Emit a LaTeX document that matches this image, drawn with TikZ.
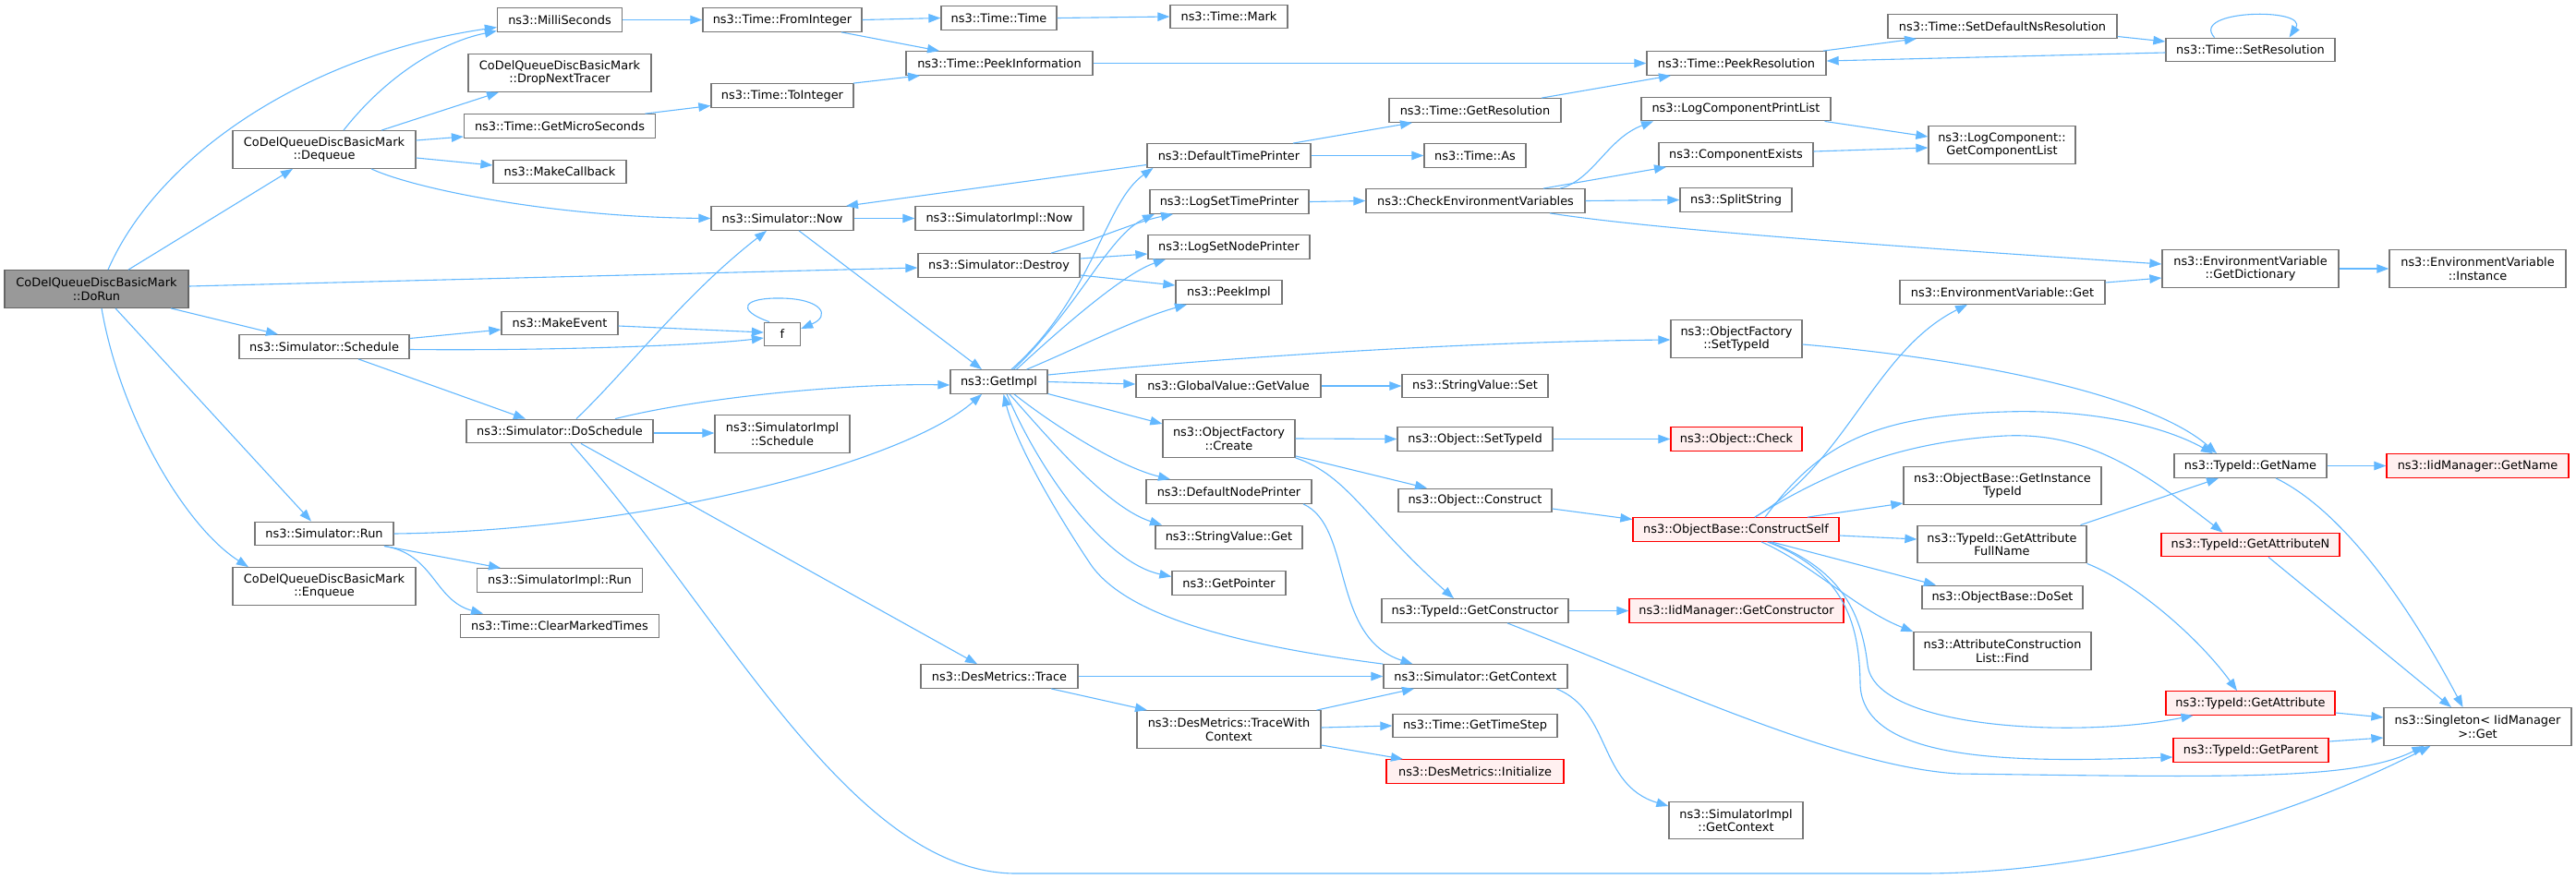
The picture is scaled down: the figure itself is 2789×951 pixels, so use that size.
\documentclass[tikz,border=0pt]{standalone}
\usepackage{fontspec}
\setmainfont{DejaVu Sans}
\usetikzlibrary{arrows.meta,calc}
\definecolor{edgeblue}{HTML}{63B8FF}
\definecolor{boxgray}{HTML}{777777}
\definecolor{rootgray}{HTML}{999999}
\definecolor{rootborder}{HTML}{666666}
\definecolor{redfill}{HTML}{FFF0F0}
\definecolor{redborder}{HTML}{FF0000}
\tikzset{
  box/.style={draw=boxgray, fill=white, line width=1.3pt, minimum height=25.5pt, inner sep=0pt, align=center, font=\fontsize{12.9pt}{14.5pt}\selectfont},
  box2/.style={box, minimum height=40.5pt},
  redbox/.style={box, draw=redborder, fill=redfill},
  rootbox/.style={box2, draw=rootborder, fill=rootgray},
  edge/.style={draw=edgeblue, line width=1.1pt, -{Triangle[length=13pt,width=9.5pt]}},
}
\begin{document}
\begin{tikzpicture}[x=1pt,y=-1pt]
\useasboundingbox (0,0) rectangle (2789,951);
% rank 0-1
\node[rootbox, minimum width=199pt] (dorun) at (104.5,313) {CoDelQueueDiscBasicMark\\::DoRun};
\node[box2, minimum width=198pt] (dequeue) at (351,162) {CoDelQueueDiscBasicMark\\::Dequeue};
\node[box, minimum width=184pt] (schedule) at (351,375.5) {ns3::Simulator::Schedule};
\node[box, minimum width=150pt] (run) at (351,578) {ns3::Simulator::Run};
\node[box2, minimum width=198pt] (enqueue) at (351,635) {CoDelQueueDiscBasicMark\\::Enqueue};
% rank 2
\node[box, minimum width=135pt] (milli) at (606,21.5) {ns3::MilliSeconds};
\node[box2, minimum width=198pt] (dropnext) at (606,79) {CoDelQueueDiscBasicMark\\::DropNextTracer};
\node[box, minimum width=207pt] (getmicro) at (606,136.5) {ns3::Time::GetMicroSeconds};
\node[box, minimum width=144pt] (makecallback) at (606,186) {ns3::MakeCallback};
\node[box, minimum width=126pt] (makeevent) at (606,350) {ns3::MakeEvent};
\node[box, minimum width=202pt] (doschedule) at (606,467) {ns3::Simulator::DoSchedule};
\node[box, minimum width=179pt] (simimplrun) at (606,628.5) {ns3::SimulatorImpl::Run};
\node[box, minimum width=215pt] (clearmarked) at (606,678) {ns3::Time::ClearMarkedTimes};
% rank 3
\node[box, minimum width=172pt] (frominteger) at (847,21.5) {ns3::Time::FromInteger};
\node[box, minimum width=154pt] (tointeger) at (847,103.5) {ns3::Time::ToInteger};
\node[box, minimum width=154pt] (now) at (847,236.5) {ns3::Simulator::Now};
\node[box, minimum width=39pt] (f) at (847,362) {f};
\node[box2, minimum width=146pt] (simimplsched) at (847,470) {ns3::SimulatorImpl\\::Schedule};
% rank 4
\node[box, minimum width=125pt] (timetime) at (1081.5,19.5) {ns3::Time::Time};
\node[box, minimum width=202pt] (peekinfo) at (1082,68.5) {ns3::Time::PeekInformation};
\node[box, minimum width=182pt] (simimplnow) at (1082,236.5) {ns3::SimulatorImpl::Now};
\node[box, minimum width=175pt] (destroy) at (1081.5,287.5) {ns3::Simulator::Destroy};
\node[box, minimum width=105pt] (getimpl) at (1081.5,413.5) {ns3::GetImpl};
\node[box, minimum width=170pt] (trace) at (1082,732.5) {ns3::DesMetrics::Trace};
% rank 5
\node[box, minimum width=127pt] (mark) at (1330.5,18) {ns3::Time::Mark};
\node[box, minimum width=177pt] (deftimeprinter) at (1330.5,168.5) {ns3::DefaultTimePrinter};
\node[box, minimum width=172pt] (logsettime) at (1331,218.5) {ns3::LogSetTimePrinter};
\node[box, minimum width=175pt] (logsetnode) at (1330.5,267.5) {ns3::LogSetNodePrinter};
\node[box, minimum width=115pt] (peekimpl) at (1330.5,316.5) {ns3::PeekImpl};
\node[box, minimum width=200pt] (getvalue) at (1330,418) {ns3::GlobalValue::GetValue};
\node[box2, minimum width=143pt] (ofcreate) at (1330.5,475) {ns3::ObjectFactory\\::Create};
\node[box, minimum width=179pt] (defnodeprinter) at (1330.5,532.5) {ns3::DefaultNodePrinter};
\node[box, minimum width=159pt] (svget) at (1330.5,582) {ns3::StringValue::Get};
\node[box, minimum width=123pt] (getpointer) at (1330.5,631.5) {ns3::GetPointer};
\node[box2, minimum width=199pt] (tracewith) at (1330.5,790) {ns3::DesMetrics::TraceWith\\Context};
% rank 6
\node[box, minimum width=186pt] (getres) at (1597,119.5) {ns3::Time::GetResolution};
\node[box, minimum width=110pt] (timeas) at (1597,168.5) {ns3::Time::As};
\node[box, minimum width=237pt] (checkenv) at (1597.5,217.5) {ns3::CheckEnvironmentVariables};
\node[box, minimum width=158pt] (svset) at (1597,418) {ns3::StringValue::Set};
\node[box, minimum width=168pt] (objsettypeid) at (1597,475.5) {ns3::Object::SetTypeId};
\node[box, minimum width=166pt] (objconstruct) at (1597,542) {ns3::Object::Construct};
\node[box, minimum width=202pt] (getconstructor) at (1597,661.5) {ns3::TypeId::GetConstructor};
\node[box, minimum width=199pt] (getcontext) at (1597.5,732.5) {ns3::Simulator::GetContext};
\node[box, minimum width=178pt] (gettimestep) at (1597,786) {ns3::Time::GetTimeStep};
\node[redbox, minimum width=192pt] (initialize) at (1597,835.5) {ns3::DesMetrics::Initialize};
% rank 7
\node[box, minimum width=194pt] (peekres) at (1880,68.5) {ns3::Time::PeekResolution};
\node[box, minimum width=205pt] (logcomplist) at (1879.5,118) {ns3::LogComponentPrintList};
\node[box, minimum width=167pt] (compexists) at (1879.5,167.5) {ns3::ComponentExists};
\node[box, minimum width=121pt] (splitstring) at (1879.5,216.5) {ns3::SplitString};
\node[box2, minimum width=142pt] (ofsettypeid) at (1880,367) {ns3::ObjectFactory\\::SetTypeId};
\node[redbox, minimum width=142pt] (objcheck) at (1880,475.5) {ns3::Object::Check};
\node[redbox, minimum width=223pt] (constructself) at (1879.5,573.5) {ns3::ObjectBase::ConstructSelf};
\node[redbox, minimum width=232pt] (iidgetconstructor) at (1880,661.5) {ns3::IidManager::GetConstructor};
\node[box2, minimum width=145pt] (simimplgetcontext) at (1879.5,888.5) {ns3::SimulatorImpl\\::GetContext};
% rank 8
\node[box, minimum width=248pt] (setdefaultns) at (2168,28.5) {ns3::Time::SetDefaultNsResolution};
\node[box2, minimum width=159pt] (getcomplist) at (2167.5,157) {ns3::LogComponent::\\GetComponentList};
\node[box, minimum width=222pt] (envget) at (2168,316.5) {ns3::EnvironmentVariable::Get};
\node[box2, minimum width=214pt] (getinstancetypeid) at (2168,526) {ns3::ObjectBase::GetInstance\\TypeId};
\node[box2, minimum width=183pt] (getattrfullname) at (2167.5,589.5) {ns3::TypeId::GetAttribute\\FullName};
\node[box, minimum width=174pt] (doset) at (2168,647) {ns3::ObjectBase::DoSet};
\node[box2, minimum width=192pt] (attrfind) at (2168,705) {ns3::AttributeConstruction\\List::Find};
% rank 9
\node[box, minimum width=183pt] (setres) at (2436.5,54) {ns3::Time::SetResolution};
\node[box2, minimum width=191pt] (getdict) at (2436.5,291) {ns3::EnvironmentVariable\\::GetDictionary};
\node[box, minimum width=165pt] (getname) at (2436.5,504.5) {ns3::TypeId::GetName};
\node[redbox, minimum width=193pt] (getattrn) at (2436.5,590) {ns3::TypeId::GetAttributeN};
\node[redbox, minimum width=183pt] (getattr) at (2436.5,761.5) {ns3::TypeId::GetAttribute};
\node[redbox, minimum width=168pt] (getparent) at (2437,812.5) {ns3::TypeId::GetParent};
% rank 10
\node[box2, minimum width=191pt] (instance) at (2682.5,291) {ns3::EnvironmentVariable\\::Instance};
\node[redbox, minimum width=197pt] (iidgetname) at (2682.5,504.5) {ns3::IidManager::GetName};
\node[box2, minimum width=203pt] (singleton) at (2682.5,787) {ns3::Singleton< IidManager\\>::Get};

% ---- edges: DoRun
\draw[edge] ([xshift=12.5pt]dorun.north) .. controls (170,170) and (330,60) .. ($(milli.west)+(0,8)$);
\draw[edge] ([xshift=34.5pt]dorun.north) -- ([xshift=-34pt]dequeue.south);
\draw[edge] ($(dorun.east)+(0,-3)$) -- ($(destroy.west)+(0,2.5)$);
\draw[edge] ([xshift=80.5pt]dorun.south) -- ([xshift=-50pt]schedule.north);
\draw[edge] ([xshift=20.5pt]dorun.south) -- ([xshift=-14pt]run.north);
\draw[edge] ([xshift=5.5pt]dorun.south) .. controls (130,450) and (200,570) .. ([xshift=-82pt]enqueue.north);
% Dequeue
\draw[edge] ([xshift=21pt]dequeue.north) .. controls (420,80) and (480,45) .. ($(milli.west)+(0,12)$);
\draw[edge] ([xshift=62pt]dequeue.north) -- ([xshift=-66pt]dropnext.south);
\draw[edge] ($(dequeue.east)+(0,-10)$) -- ($(getmicro.west)+(0,11.5)$);
\draw[edge] ($(dequeue.east)+(0,9)$) -- ($(makecallback.west)+(0,-7)$);
\draw[edge] ([xshift=51pt]dequeue.south) .. controls (450,205) and (600,235) .. (now.west);
% Schedule
\draw[edge] ($(schedule.east)+(0,-9)$) -- ($(makeevent.west)+(0,7)$);
\draw[edge] ($(schedule.east)+(0,3)$) .. controls (600,380) and (760,374) .. ($(f.west)+(0,4)$);
\draw[edge] ([xshift=37pt]schedule.south) -- ([xshift=-37pt]doschedule.north);
\draw[edge] ($(makeevent.east)+(0,3)$) -- ($(f.west)+(0,-2)$);
\draw[edge] ([xshift=-14pt]f.north) .. controls (795,335) and (805,322) .. (847,323) .. controls (890,324) and (900,342) .. ($(f.east)+(0,-6)$);
% DoSchedule
\draw[edge] ([xshift=18pt]doschedule.north) .. controls (680,400) and (740,320) .. ([xshift=-17pt]now.south);
\draw[edge] ([xshift=60pt]doschedule.north) .. controls (760,430) and (920,415) .. ($(getimpl.west)+(0,3.5)$);
\draw[edge] ($(doschedule.east)+(0,2)$) -- ($(simimplsched.west)+(0,-1)$);
\draw[edge] ([xshift=23pt]doschedule.south) -- ([xshift=-24pt]trace.north);
\draw[edge] ([xshift=12pt]doschedule.south) .. controls (780,660) and (920,946) .. (1100,946) -- (2080,946) .. controls (2250,946) and (2450,900) .. ([xshift=-51pt]singleton.south);
% Run
\draw[edge] (run.east) .. controls (700,575) and (980,500) .. ([xshift=-18.5pt]getimpl.south);
\draw[edge] ([xshift=65pt]run.south) -- ([xshift=-64pt]simimplrun.north);
\draw[edge] ([xshift=65pt]run.south) .. controls (470,600) and (470,650) .. ([xshift=-83pt]clearmarked.north);
% rank 2-4
\draw[edge] (milli.east) -- (frominteger.west);
\draw[edge] ([xshift=92.5pt]getmicro.north) -- ($(tointeger.west)+(0,11)$);
\draw[edge] (frominteger.east) -- (timetime.west);
\draw[edge] ([xshift=64pt]frominteger.south) -- ([xshift=-65pt]peekinfo.north);
\draw[edge] ([xshift=77pt]tointeger.north) -- ([xshift=-86pt]peekinfo.south);
\draw[edge] (timetime.east) -- (mark.west);
\draw[edge] (peekinfo.east) -- (peekres.west);
\draw[edge] (now.east) -- (simimplnow.west);
\draw[edge] ([xshift=18pt]now.south) -- ([xshift=-18.5pt]getimpl.north);
% DefaultTimePrinter, LogSetTimePrinter
\draw[edge] ($(deftimeprinter.west)+(0,10)$) -- ([xshift=69pt]now.north);
\draw[edge] ([xshift=69.5pt]deftimeprinter.north) -- ([xshift=-68pt]getres.south);
\draw[edge] (deftimeprinter.east) -- (timeas.west);
\draw[edge] (logsettime.east) -- (checkenv.west);
% Destroy
\draw[edge] ([xshift=56.5pt]destroy.north) .. controls (1180,262) and (1230,240) .. ([xshift=-61pt]logsettime.south);
\draw[edge] ($(destroy.east)+(0,-7.5)$) -- ($(logsetnode.west)+(0,7.5)$);
\draw[edge] ($(destroy.east)+(0,10.5)$) -- ($(peekimpl.west)+(0,-7.5)$);
% GetImpl
\draw[edge] ([xshift=13.5pt]getimpl.north) .. controls (1185,320) and (1195,220) .. ([xshift=-82pt]deftimeprinter.south);
\draw[edge] ([xshift=16pt]getimpl.north) .. controls (1170,330) and (1200,255) .. ([xshift=-81pt]logsettime.south);
\draw[edge] ([xshift=19pt]getimpl.north) .. controls (1160,345) and (1220,295) .. ([xshift=-68.5pt]logsetnode.south);
\draw[edge] ([xshift=30pt]getimpl.north) .. controls (1160,380) and (1230,345) .. ([xshift=-45.5pt]peekimpl.south);
\draw[edge] ($(getimpl.east)+(0,-7.5)$) .. controls (1350,385) and (1600,370) .. ($(ofsettypeid.west)+(0,1)$);
\draw[edge] (getimpl.east) -- ($(getvalue.west)+(0,-2)$);
\draw[edge] ($(getimpl.east)+(0,13)$) -- ($(ofcreate.west)+(0,-16)$);
\draw[edge] ([xshift=16.5pt]getimpl.south) .. controls (1140,460) and (1210,505) .. ([xshift=-63.5pt]defnodeprinter.north);
\draw[edge] ([xshift=11.5pt]getimpl.south) .. controls (1140,480) and (1200,550) .. ([xshift=-72.5pt]svget.north);
\draw[edge] ([xshift=8.5pt]getimpl.south) .. controls (1130,520) and (1200,610) .. ($(getpointer.west)+(0,-7)$);
\draw[edge] (getcontext.north west) .. controls (1350,700) and (1220,670) .. (1180,610) .. controls (1140,550) and (1100,480) .. ([xshift=5pt]getimpl.south);
% ObjectFactory::Create etc.
\draw[edge] (ofcreate.east) -- (objsettypeid.west);
\draw[edge] ($(ofcreate.south east)+(0,-2)$) -- ([xshift=-52pt]objconstruct.north);
\draw[edge] (ofcreate.south east) .. controls (1460,515) and (1480,565) .. ([xshift=-23pt]getconstructor.north);
\draw[edge] ([xshift=80.5pt]defnodeprinter.south) .. controls (1465,570) and (1440,690) .. ([xshift=-68pt]getcontext.north);
\draw[edge] (getvalue.east) -- (svset.west);
\draw[edge] ([xshift=95pt]tracewith.north) -- ([xshift=-66.5pt]getcontext.south);
\draw[edge] ($(tracewith.east)+(0,-2)$) -- (gettimestep.west);
\draw[edge] ($(tracewith.east)+(0,17)$) -- ([xshift=-78pt]initialize.north);
\draw[edge] (trace.east) -- (getcontext.west);
\draw[edge] ([xshift=56pt]trace.south) -- ([xshift=-88.5pt]tracewith.north);
% CheckEnvironmentVariables
\draw[edge] ([xshift=91.5pt]checkenv.north) .. controls (1725,195) and (1740,150) .. ([xshift=-89.5pt]logcomplist.south);
\draw[edge] ([xshift=73.5pt]checkenv.north) -- ([xshift=-75.5pt]compexists.south);
\draw[edge] (checkenv.east) -- (splitstring.west);
\draw[edge] ([xshift=80.5pt]checkenv.south) .. controls (1800,250) and (2100,270) .. ($(getdict.west)+(0,-5)$);
% resolution
\draw[edge] ([xshift=94pt]peekres.north) -- ([xshift=-93pt]setdefaultns.south);
\draw[edge] ([xshift=72pt]getres.north) -- ([xshift=-71pt]peekres.south);
\draw[edge] ($(setdefaultns.east)+(0,11)$) -- ($(setres.west)+(0,-9)$);
\draw[edge] ($(setres.west)+(0,3)$) -- ($(peekres.east)+(0,-2.5)$);
\draw[edge] ([xshift=-39pt]setres.north) .. controls (2370,10) and (2500,8) .. ([xshift=42pt]setres.north);
\draw[edge] ([xshift=96pt]logcomplist.south) -- ($(getcomplist.west)+(0,-9)$);
\draw[edge] ($(compexists.east)+(0,-3.5)$) -- ($(getcomplist.west)+(0,3)$);
\draw[edge] ($(envget.east)+(0,-10.5)$) -- ($(getdict.west)+(0,10)$);
\draw[edge] (getdict.east) -- (instance.west);
% objects
\draw[edge] ($(ofsettypeid.east)+(0,6)$) .. controls (2150,390) and (2330,430) .. ([xshift=-36.5pt]getname.north);
\draw[edge] (objsettypeid.east) -- (objcheck.west);
\draw[edge] ($(objconstruct.east)+(0,9)$) -- ($(constructself.west)+(0,-11)$);
\draw[edge] (getconstructor.east) -- (iidgetconstructor.west);
\draw[edge] ([xshift=35pt]getconstructor.south) .. controls (1800,740) and (1990,830) .. (2120,838) .. controls (2420,842) and (2550,845) .. ([xshift=-58pt]singleton.south);
\draw[edge] ([xshift=87.5pt]getcontext.south) .. controls (1745,770) and (1730,850) .. ($(simimplgetcontext.west)+(0,-15.5)$);
% ConstructSelf
\draw[edge] ([xshift=20.5pt]constructself.north) .. controls (2000,500) and (2030,380) .. ([xshift=-38pt]envget.south);
\draw[edge] ([xshift=31.5pt]constructself.north) .. controls (1970,480) and (2030,450) .. (2171,446) .. controls (2260,443) and (2340,460) .. ([xshift=-40.5pt]getname.north);
\draw[edge] ([xshift=20.5pt]constructself.north) .. controls (1980,510) and (2060,478) .. (2171,472) .. controls (2260,468) and (2320,510) .. ([xshift=-30pt]getattrn.north);
\draw[edge] ([xshift=77.5pt]constructself.north) -- ($(getinstancetypeid.west)+(0,19)$);
\draw[edge] ($(constructself.east)+(0,6.5)$) -- ($(getattrfullname.west)+(0,-5.5)$);
\draw[edge] ([xshift=38.5pt]constructself.south) -- ([xshift=-72pt]doset.north);
\draw[edge] ([xshift=27.5pt]constructself.south) .. controls (1960,610) and (2010,660) .. (attrfind.north west);
\draw[edge] ([xshift=36pt]constructself.south) .. controls (1990,615) and (2015,660) .. (2022,720) .. controls (2030,790) and (2250,800) .. ([xshift=-62pt]getattr.south);
\draw[edge] ([xshift=34pt]constructself.south) .. controls (2000,620) and (2013,680) .. (2014,740) .. controls (2015,830) and (2200,825) .. ($(getparent.west)+(0,7.5)$);
% TypeId
\draw[edge] ([xshift=85pt]getattrfullname.north) -- ([xshift=-34.5pt]getname.south);
\draw[edge] (getattrfullname.south east) .. controls (2310,630) and (2380,690) .. ([xshift=-14.5pt]getattr.north);
\draw[edge] (getname.east) -- (iidgetname.west);
\draw[edge] ([xshift=27.5pt]getname.south) .. controls (2530,550) and (2600,640) .. ([xshift=-16pt]singleton.north);
\draw[edge] ([xshift=19.5pt]getattrn.south) -- ([xshift=-28.5pt]singleton.north);
\draw[edge] ($(getattr.east)+(0,10.5)$) -- ($(singleton.west)+(0,-10)$);
\draw[edge] ($(getparent.east)+(0,-9.5)$) -- ($(singleton.west)+(0,12)$);
\end{tikzpicture}
\end{document}
